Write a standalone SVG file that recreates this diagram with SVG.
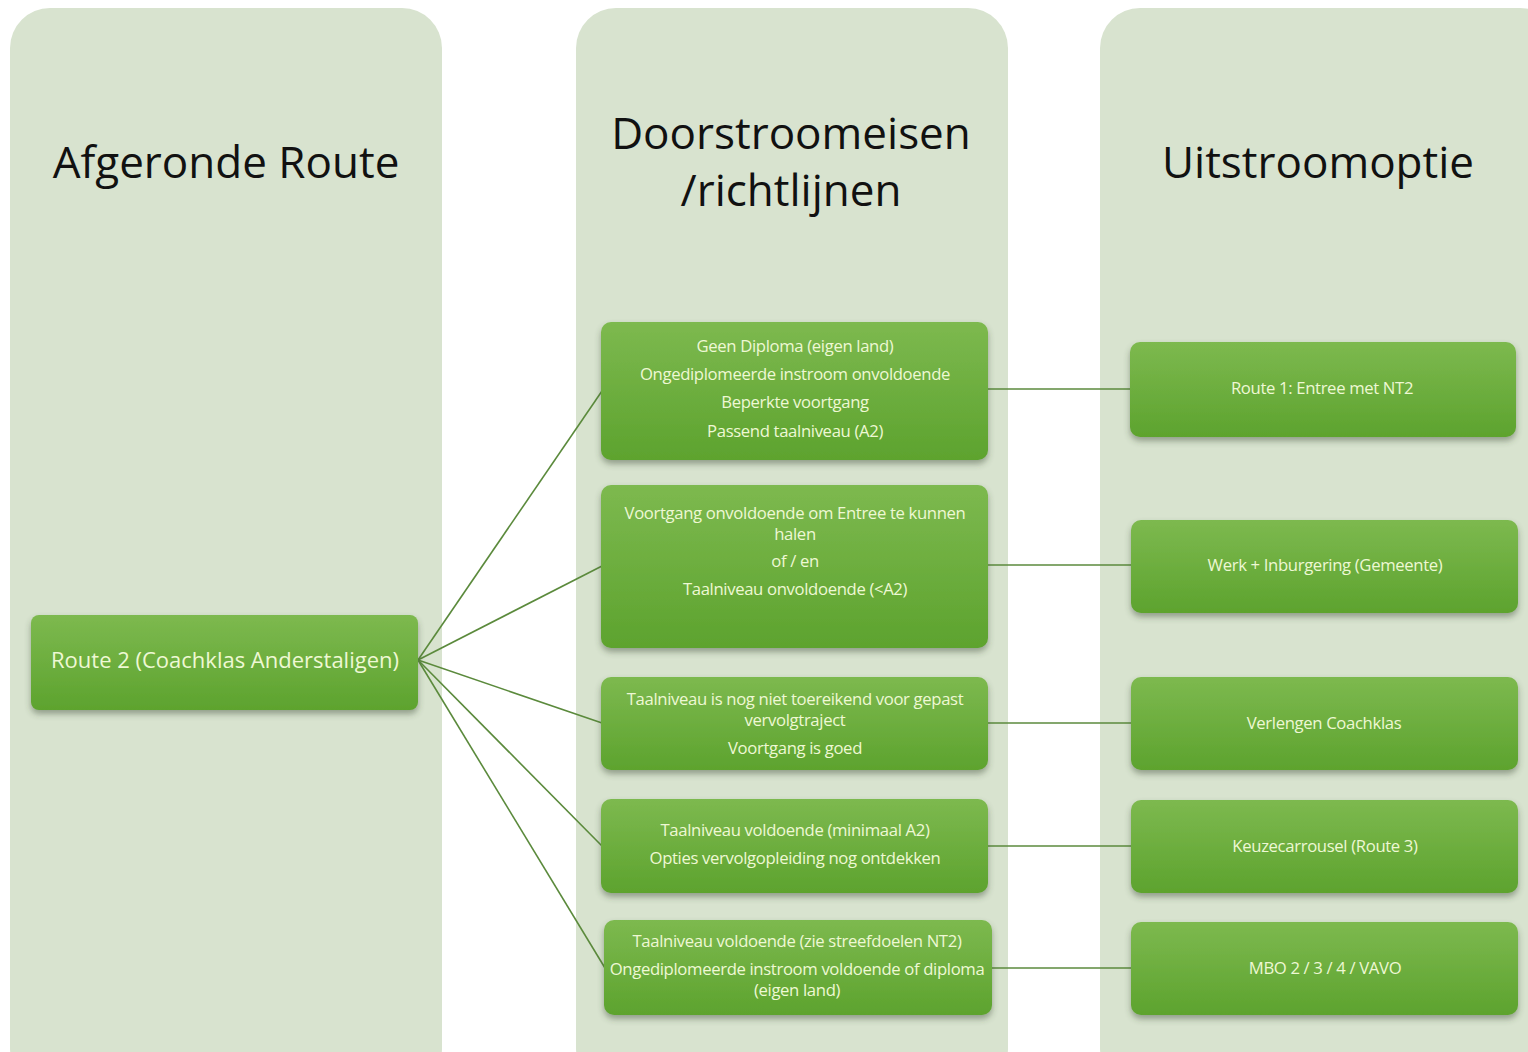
<svg xmlns="http://www.w3.org/2000/svg" width="1528" height="1052" viewBox="0 0 1528 1052">
<defs>
<linearGradient id="g" x1="0" y1="0" x2="0" y2="1">
<stop offset="0" stop-color="#7db94f"/>
<stop offset="1" stop-color="#5da32e"/>
</linearGradient>
<filter id="sh" x="-10%" y="-20%" width="120%" height="150%">
<feDropShadow dx="0" dy="4" stdDeviation="3" flood-color="#3a4a30" flood-opacity="0.45"/>
</filter>
<style>
.col{fill:#d8e3cf}
.title{font-family:"Open Sans","Liberation Sans",sans-serif;font-size:44px;fill:#111;text-anchor:middle}
.node rect{fill:url(#g);filter:url(#sh)}
.node text{font-family:"Open Sans","Liberation Sans",sans-serif;font-size:16.7px;fill:#eef8d4;text-anchor:middle;letter-spacing:-0.35px}
.big text{font-size:22px;letter-spacing:0}
.conn line{stroke:#5b8a3c;stroke-width:1.6}
</style>
</defs>
<rect width="1528" height="1052" fill="#ffffff"/>
<g id="columns">
<rect class="col" x="10" y="8" width="432" height="1080" rx="40"/>
<rect class="col" x="576" y="8" width="432" height="1080" rx="40"/>
<rect class="col" x="1100" y="8" width="460" height="1080" rx="40"/>
<text class="title" x="226" y="178">Afgeronde Route</text>
<text class="title" x="791" y="149">Doorstroomeisen</text>
<text class="title" x="791" y="206">/richtlijnen</text>
<text class="title" x="1318" y="178">Uitstroomoptie</text>
</g>
<g id="connectors" class="conn">
<line x1="418" y1="660" x2="602" y2="391"/>
<line x1="418" y1="660" x2="602" y2="566"/>
<line x1="418" y1="660" x2="602" y2="723"/>
<line x1="418" y1="660" x2="602" y2="846"/>
<line x1="418" y1="660" x2="605" y2="968"/>
<line x1="988" y1="389" x2="1130" y2="389"/>
<line x1="988" y1="565" x2="1131" y2="565"/>
<line x1="988" y1="723" x2="1131" y2="723"/>
<line x1="988" y1="846" x2="1131" y2="846"/>
<line x1="992" y1="968" x2="1131" y2="968"/>
</g>
<g id="route2" class="node big">
<rect x="31" y="615" width="387" height="95" rx="8"/>
<text x="225" y="668">Route 2 (Coachklas Anderstaligen)</text>
</g>
<g id="eis1" class="node">
<rect x="601" y="322" width="387" height="138" rx="10"/>
<text x="795" y="352">Geen Diploma (eigen land)</text>
<text x="795" y="380">Ongediplomeerde instroom onvoldoende</text>
<text x="795" y="408">Beperkte voortgang</text>
<text x="795" y="437">Passend taalniveau (A2)</text>
</g>
<g id="eis2" class="node">
<rect x="601" y="485" width="387" height="163" rx="10"/>
<text x="795" y="519">Voortgang onvoldoende om Entree te kunnen</text>
<text x="795" y="540">halen</text>
<text x="795" y="567">of / en</text>
<text x="795" y="595">Taalniveau onvoldoende (&lt;A2)</text>
</g>
<g id="eis3" class="node">
<rect x="601" y="677" width="387" height="93" rx="10"/>
<text x="795" y="705">Taalniveau is nog niet toereikend voor gepast</text>
<text x="795" y="726">vervolgtraject</text>
<text x="795" y="754">Voortgang is goed</text>
</g>
<g id="eis4" class="node">
<rect x="601" y="799" width="387" height="94" rx="10"/>
<text x="795" y="836">Taalniveau voldoende (minimaal A2)</text>
<text x="795" y="864">Opties vervolgopleiding nog ontdekken</text>
</g>
<g id="eis5" class="node">
<rect x="604" y="920" width="388" height="95" rx="10"/>
<text x="797" y="947">Taalniveau voldoende (zie streefdoelen NT2)</text>
<text x="797" y="975">Ongediplomeerde instroom voldoende of diploma</text>
<text x="797" y="996">(eigen land)</text>
</g>
<g id="uit1" class="node">
<rect x="1130" y="342" width="386" height="95" rx="10"/>
<text x="1322" y="394">Route 1: Entree met NT2</text>
</g>
<g id="uit2" class="node">
<rect x="1131" y="520" width="387" height="93" rx="10"/>
<text x="1325" y="571">Werk + Inburgering (Gemeente)</text>
</g>
<g id="uit3" class="node">
<rect x="1131" y="677" width="387" height="93" rx="10"/>
<text x="1324" y="729">Verlengen Coachklas</text>
</g>
<g id="uit4" class="node">
<rect x="1131" y="800" width="387" height="93" rx="10"/>
<text x="1325" y="852">Keuzecarrousel (Route 3)</text>
</g>
<g id="uit5" class="node">
<rect x="1131" y="922" width="387" height="93" rx="10"/>
<text x="1325" y="974">MBO 2 / 3 / 4 / VAVO</text>
</g>
</svg>
